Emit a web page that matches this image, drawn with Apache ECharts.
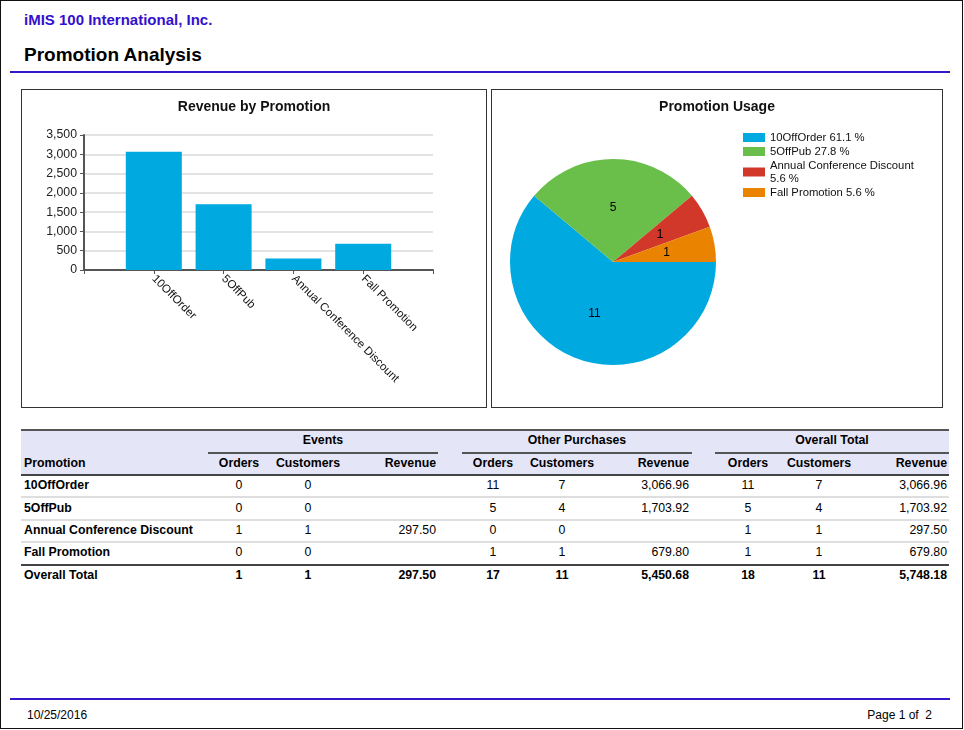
<!DOCTYPE html>
<html>
<head>
<meta charset="utf-8">
<script src="https://cdn.jsdelivr.net/npm/echarts@6/dist/echarts.min.js"></script>
<style>
  html,body{margin:0;padding:0;background:#fff;}
  body{font-family:Arial,"Liberation Sans",sans-serif;color:#000;}
  #page{position:relative;width:964px;height:730px;overflow:hidden;}
  .abs{position:absolute;}
  .t{position:absolute;white-space:nowrap;line-height:14px;height:14px;font-size:12.3px;}
  .b{font-weight:bold;}
  .box{position:absolute;border:1.5px solid #333;box-sizing:border-box;}
</style>
</head>
<body>
<div id="page">
  <div class="abs" style="left:0;top:0;width:963px;height:729px;border:1.5px solid #111;box-sizing:border-box;"></div>
  <div class="t b" style="left:24px;top:12px;font-size:15px;line-height:16px;color:#3311cc;">iMIS 100 International, Inc.</div>
  <div class="t b" style="left:24px;top:44px;font-size:19px;line-height:22px;height:22px;">Promotion Analysis</div>
  <div class="abs" style="left:10px;top:71px;width:940px;height:2px;background:#3318c8;"></div>

  <div class="box" style="left:21px;top:89px;width:466px;height:319px;"><div id="bar" style="width:100%;height:100%;"></div></div>
  <div class="box" style="left:491px;top:89px;width:452px;height:319px;"><div id="pie" style="width:100%;height:100%;"></div></div>

  <div id="table"></div>

  <div class="abs" style="left:10px;top:698px;width:940px;height:2px;background:#3318c8;"></div>
  <div class="t" style="left:27px;top:708px;font-size:12px;font-family:'Liberation Sans Narrow',Arial,sans-serif;">10/25/2016</div>
  <div class="t" style="left:832px;width:100px;text-align:right;top:708px;font-size:12px;font-family:'Liberation Sans Narrow',Arial,sans-serif;">Page 1 of&nbsp; 2</div>
</div>
<script>
const FONT = 'Arial, "Liberation Sans", sans-serif';

// chart data
const promotions = ['10OffOrder', '5OffPub', 'Annual Conference Discount', 'Fall Promotion'];
const revenue = [3066.96, 1703.92, 297.50, 679.80];
const usage = [11, 5, 1, 1];
const pieColors = ['#00a9e0', '#6abf4a', '#d2382a', '#e98300'];

// table data
const eventOrders = [0, 0, 1, 0];
const eventCustomers = [0, 0, 1, 0];
const eventRevenue = [null, null, 297.50, null];
const otherOrders = [11, 5, 0, 1];
const otherCustomers = [7, 4, 0, 1];
const otherRevenue = [3066.96, 1703.92, null, 679.80];
const totalOrders = [11, 5, 1, 1];
const totalCustomers = [7, 4, 1, 1];
const totalRevenue = [3066.96, 1703.92, 297.50, 679.80];
const overallRow = [1, 1, 297.50, 17, 11, 5450.68, 18, 11, 5748.18];
const groupHeaders = ['Events', 'Other Purchases', 'Overall Total'];
const colHeaders = ['Orders', 'Customers', 'Revenue'];

function money(v){ return v == null ? '' : v.toLocaleString('en-US', {minimumFractionDigits:2, maximumFractionDigits:2}); }

function initBar(){
    const chart = echarts.init(document.getElementById('bar'));
    const gl = 62, gr = 53;
    // the bars sit one half-slot in from each end of the drawn axis
    const half = (chart.getWidth() - gl - gr) / (promotions.length + 1) / 2;
    const axisCol = '#555';
    chart.setOption({
        animation: false,
        title: {text: 'Revenue by Promotion', left: 'center', top: 5,
            textStyle: {fontSize: 14, fontWeight: 'bold', color: '#111', fontFamily: FONT}},
        grid: [
            {left: gl, right: gr, top: 45, bottom: 137},
            {left: gl + half, right: gr + half, top: 45, bottom: 137}
        ],
        xAxis: [
            {type: 'value', gridIndex: 0, min: 0, max: 1, interval: 1,
                splitLine: {show: false},
                axisLine: {lineStyle: {color: axisCol, width: 2}},
                axisTick: {show: true, length: 4, lineStyle: {color: axisCol}},
                axisLabel: {show: false}},
            {type: 'category', gridIndex: 1, data: promotions, boundaryGap: true,
                axisLine: {show: false},
                axisTick: {show: true, alignWithLabel: true, length: 4, lineStyle: {color: axisCol}},
                axisLabel: {rotate: -45, margin: 7, fontSize: 11.5, color: '#111', fontFamily: FONT, interval: 0}}
        ],
        yAxis: [
            {type: 'value', gridIndex: 0, min: 0, max: 3500, interval: 500,
                axisLine: {show: true, lineStyle: {color: axisCol, width: 2}},
                axisTick: {show: true, length: 4, lineStyle: {color: axisCol}},
                splitLine: {lineStyle: {color: '#e3e3e3', width: 2}},
                axisLabel: {fontSize: 12.3, color: '#222', margin: 7, fontFamily: FONT,
                    formatter: v => v.toLocaleString('en-US')}},
            {type: 'value', gridIndex: 1, min: 0, max: 3500, show: false}
        ],
        series: [{type: 'bar', xAxisIndex: 1, yAxisIndex: 1, data: revenue, barWidth: 56,
            itemStyle: {color: '#00a9e0'}}]
    });
}

function initPie(){
    const chart = echarts.init(document.getElementById('pie'));
    const sum = usage.reduce((a, b) => a + b, 0);
    chart.setOption({
        animation: false,
        title: {text: 'Promotion Usage', left: 'center', top: 5,
            textStyle: {fontSize: 14, fontWeight: 'bold', color: '#111', fontFamily: FONT}},
        legend: {orient: 'vertical', left: 246, top: 36, itemWidth: 22, itemHeight: 9, itemGap: 1, icon: 'rect',
            textStyle: {fontSize: 11.3, color: '#111', lineHeight: 13, width: 155, overflow: 'break', fontFamily: FONT},
            formatter: name => {
                const i = promotions.indexOf(name);
                return name + ' ' + (usage[i] / sum * 100).toFixed(1) + ' %';
            }},
        series: [{type: 'pie', center: [121, 172], radius: 103, startAngle: 0, clockwise: true,
            label: {position: 'inside', formatter: '{c}', fontSize: 12, color: '#000', fontFamily: FONT},
            labelLine: {show: false}, emphasis: {disabled: true},
            itemStyle: {borderWidth: 0},
            data: promotions.map((n, i) => ({name: n, value: usage[i], itemStyle: {color: pieColors[i]}}))}]
    });
}

function renderTable(){
    const root = document.getElementById('table');
    let html = '';
    const line = (x, y, w, h, c) => { html += `<div class="abs" style="left:${x}px;top:${y}px;width:${w}px;height:${h}px;background:${c};"></div>`; };
    const txt = (s, x, y, align, bold) => {
        let pos = align === 'c' ? `left:${x - 60}px;width:120px;text-align:center;` :
                  align === 'r' ? `left:${x - 150}px;width:150px;text-align:right;` : `left:${x}px;`;
        html += `<div class="t${bold ? ' b' : ''}" style="${pos}top:${y - 7}px;">${s}</div>`;
    };
    // header
    line(21, 431, 928, 44, '#e5e5f8');
    line(21, 429, 928, 2, '#555');
    line(21, 474, 928, 2, '#444');
    const groups = [
        {x0: 208, x1: 438, cols: [239, 308, 436]},
        {x0: 462, x1: 692, cols: [493, 562, 689]},
        {x0: 715, x1: 949, cols: [748, 819, 947]}
    ];
    groups.forEach((g, gi) => {
        txt(groupHeaders[gi], (g.x0 + g.x1) / 2, 440, 'c', true);
        line(g.x0, 452, g.x1 - g.x0, 2, '#555');
        colHeaders.forEach((h, ci) => txt(h, g.cols[ci], 463, ci === 2 ? 'r' : 'c', true));
    });
    txt('Promotion', 24, 463, 'l', true);
    // rows
    const rowY = [485, 507.5, 530, 552];
    promotions.forEach((p, r) => {
        const y = rowY[r];
        txt(p, 24, y, 'l', true);
        const vals = [eventOrders[r], eventCustomers[r], money(eventRevenue[r]),
                      otherOrders[r], otherCustomers[r], money(otherRevenue[r]),
                      totalOrders[r], totalCustomers[r], money(totalRevenue[r])];
        vals.forEach((v, k) => {
            const g = groups[Math.floor(k / 3)], ci = k % 3;
            txt(v, g.cols[ci], y, ci === 2 ? 'r' : 'c', false);
        });
        if (r < 3) line(21, y + 11, 928, 2, '#dedede');
    });
    line(21, 564, 928, 2, '#444');
    txt('Overall Total', 24, 575, 'l', true);
    overallRow.forEach((v, k) => {
        const g = groups[Math.floor(k / 3)], ci = k % 3;
        txt(ci === 2 ? money(v) : v, g.cols[ci], 575, ci === 2 ? 'r' : 'c', true);
    });
    root.innerHTML = html;
}

document.addEventListener('DOMContentLoaded', () => {
    renderTable();
    initBar();
    initPie();
});
</script>
</body>
</html>
